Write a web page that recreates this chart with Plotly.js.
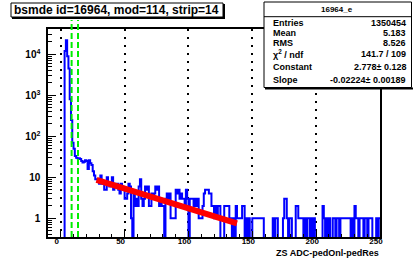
<!DOCTYPE html>
<html><head><meta charset="utf-8">
<script src="https://cdn.plot.ly/plotly-3.0.1.min.js"></script>
<style>html,body{margin:0;padding:0;background:#fff;} #chart{width:413px;height:267px;}</style>
</head><body><div id="chart"></div>
<script>
// ---------- data ----------
const titleText = 'bsmde id=16964, mod=114, strip=14';
const xTitleText = 'ZS ADC-pedOnl-pedRes';
const histName = '16964_e';
const firstBinEdge = 0;   // bins are 1 unit wide
// bins 0-29
const countsPeak = [0,0,0,12000,22000,9000,4500,800,250,70,
  50,33,30,29,29,28,25,23,24,26,
  25,16,26,22,20,14,11,9,9,8];
// bins 30-139
const countsMid = [7,11,7,7,5,5,10,7,6,7,
  10,5,7,6,7,5,4,7,6,5,
  3,3,4,7,6,1,0,4,2,3,
  2,6,9,3,2,3,6,5,6,2,
  2,4,3,4,6,5,6,2,3,2,
  2,0,3,4,3,4,1,1,1,1,
  5,4,5,3,4,3,3,2,5,3,
  0,3,3,3,2,3,2,3,1,1,
  1,2,4,5,5,5,4,4,2,2,
  1,2,1,2,2,0,0,0,2,2,
  2,2,1,1,0,1,0,2,1,1];
// bins 140-249
const countsTail = [1,1,2,2,0,1,0,1,0,0,
  1,1,1,1,1,1,1,1,1,0,
  0,0,0,0,0,0,1,0,1,1,
  0,0,0,0,1,3,3,1,0,1,
  1,0,0,0,2,2,1,1,1,1,
  0,1,0,1,1,0,1,0,1,0,
  0,0,0,0,0,2,1,0,1,0,
  1,0,0,1,1,0,1,1,0,1,
  1,1,1,1,1,1,1,0,1,0,
  2,1,1,0,1,1,1,0,1,1,
  0,1,1,1,0,0,0,1,0,1];
const cutLines = [8.5, 13.5];
const fitConstant = 2.778;
const fitSlope = -0.02224;
const fitRange = [28, 138];
const statLabels = ['Entries','Mean','RMS','\u03c7<sup>2</sup> / ndf','Constant','Slope'];
const statValues = ['1350454','5.183','8.526','141.7 / 109','2.778\u00b1 0.128','-0.02224\u00b1 0.00189'];

// ---------- build ----------
const counts = countsPeak.concat(countsMid, countsTail);
const edges = counts.map((c, i) => firstBinEdge + i);
edges.push(firstBinEdge + counts.length);
const yFloor = 0.05; // empty bins drawn down past the axis bottom
const yStep = counts.map(c => c > 0 ? c : yFloor);
yStep.push(yStep[yStep.length - 1]);

const fitX = fitRange.slice();
const fitY = fitX.map(x => Math.exp(fitConstant + fitSlope * x));

const W = 413, H = 267, ML = 48, MR = 33, MT = 29, MB = 30;
const PW = W - ML - MR, PH = H - MT - MB;
const X = px => (px - ML) / PW;
const Y = py => (H - MB - py) / PH;

const FONT = 'Liberation Sans, Arial, Helvetica, sans-serif';

const traces = [
  {x: edges, y: yStep, type: 'scatter', mode: 'lines', line: {shape: 'hv', color: '#0000ff', width: 2}, hoverinfo: 'skip'},
  {x: fitX, y: fitY, type: 'scatter', mode: 'lines', line: {color: '#ff0000', width: 6}, hoverinfo: 'skip'}
];

const shapes = [];
cutLines.forEach(v => shapes.push({type: 'line', xref: 'x', yref: 'paper', x0: v, x1: v, y0: 0, y1: Y(20),
  line: {color: '#00ee00', width: 2, dash: '6px,3px'}, layer: 'above'}));
// title box
shapes.push({type: 'rect', xref: 'paper', yref: 'paper', x0: X(11), x1: X(223), y0: Y(17), y1: Y(3),
  line: {color: '#000', width: 1}, fillcolor: '#fff', layer: 'above'});
shapes.push({type: 'line', xref: 'paper', yref: 'paper', x0: X(224), x1: X(224), y0: Y(18), y1: Y(4), line: {color: '#000', width: 2}, layer: 'above'});
shapes.push({type: 'line', xref: 'paper', yref: 'paper', x0: X(12), x1: X(225), y0: Y(18), y1: Y(18), line: {color: '#000', width: 2}, layer: 'above'});
// stats box
shapes.push({type: 'rect', xref: 'paper', yref: 'paper', x0: X(264), x1: X(411.5), y0: Y(87.5), y1: Y(2),
  line: {color: '#000', width: 1}, fillcolor: '#fff', layer: 'above'});
shapes.push({type: 'line', xref: 'paper', yref: 'paper', x0: X(265), x1: X(413), y0: Y(88.5), y1: Y(88.5), line: {color: '#000', width: 2}, layer: 'above'});
shapes.push({type: 'line', xref: 'paper', yref: 'paper', x0: X(264), x1: X(411.5), y0: Y(16.7), y1: Y(16.7), line: {color: '#000', width: 1}, layer: 'above'});

const annotations = [];
annotations.push({text: titleText, xref: 'paper', yref: 'paper', x: X(13), y: Y(10), xanchor: 'left', yanchor: 'middle',
  showarrow: false, font: {family: FONT, size: 12, color: '#000', weight: 'bold'}, borderpad: 0});
annotations.push({text: histName, xref: 'paper', yref: 'paper', x: X(337), y: Y(9.5), xanchor: 'center', yanchor: 'middle',
  showarrow: false, font: {family: FONT, size: 8, color: '#000', weight: 'bold'}, borderpad: 0});
const rowY = [22.7, 33, 42.5, 53.7, 66.5, 80];
statLabels.forEach((s, i) => {
  annotations.push({text: s, xref: 'paper', yref: 'paper', x: X(271.5), y: Y(rowY[i]), xanchor: 'left', yanchor: 'middle',
    showarrow: false, font: {family: FONT, size: 9, color: '#000', weight: 'bold'}, borderpad: 0});
  annotations.push({text: statValues[i], xref: 'paper', yref: 'paper', x: X(406.5), y: Y(rowY[i]), xanchor: 'right', yanchor: 'middle',
    showarrow: false, font: {family: FONT, size: 9, color: '#000', weight: 'bold'}, borderpad: 0});
});
annotations.push({text: xTitleText, xref: 'paper', yref: 'paper', x: X(379.5), y: Y(253), xanchor: 'right', yanchor: 'middle',
  showarrow: false, font: {family: FONT, size: 9, color: '#000', weight: 'bold'}, borderpad: 0});

const layout = {
  width: W, height: H,
  margin: {l: ML, r: MR, t: MT, b: MB, pad: 0},
  paper_bgcolor: '#fff', plot_bgcolor: '#fff', showlegend: false,
  font: {family: FONT, size: 8, color: '#000', weight: 'bold'},
  xaxis: {
    range: [-10, 250], tick0: 0, dtick: 50, ticks: 'inside', ticklen: 6, tickwidth: 1, tickcolor: '#000',
    showline: true, linewidth: 2, linecolor: '#000', mirror: true,
    showgrid: true, gridcolor: '#000', gridwidth: 2, griddash: '2px,6px', zeroline: false,
    tickfont: {family: FONT, size: 8, color: '#000', weight: 'bold'}, ticklabelshift: -4, ticklabelstandoff: -5,
    minor: {dtick: 10, ticks: 'inside', ticklen: 3, tickcolor: '#000', tickwidth: 1, showgrid: false}
  },
  yaxis: {
    type: 'log', range: [-0.456, 4.617], dtick: 1, exponentformat: 'power',
    ticks: 'inside', ticklen: 8, tickwidth: 1, tickcolor: '#000',
    showline: true, linewidth: 2, linecolor: '#000', mirror: true, showgrid: false, zeroline: false,
    tickfont: {family: FONT, size: 8, color: '#000', weight: 'bold'}, ticklabelstandoff: 4,
    minor: {dtick: 'D1', ticks: 'inside', ticklen: 4, tickcolor: '#000', tickwidth: 1, showgrid: false}
  },
  shapes: shapes, annotations: annotations
};

Plotly.newPlot('chart', traces, layout, {staticPlot: true, displayModeBar: false});
</script>
</body></html>
